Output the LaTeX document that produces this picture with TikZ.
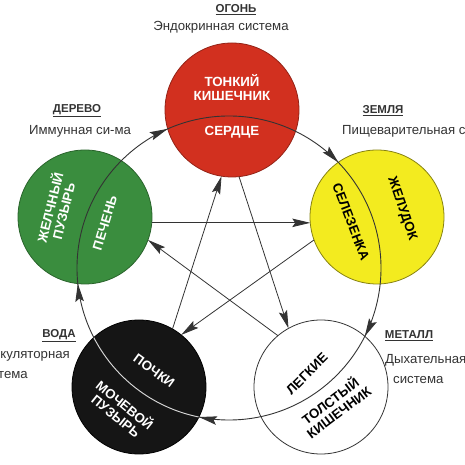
\documentclass[tikz,border=0pt]{standalone}
\usepackage{fontspec}
\setmainfont{Liberation Sans}
\usetikzlibrary{arrows.meta,decorations.markings}

\definecolor{firered}{HTML}{D2301F}
\definecolor{woodgreen}{HTML}{3A8D3E}
\definecolor{earthyellow}{HTML}{F3EB1F}
\definecolor{waterblack}{HTML}{151515}
\definecolor{linegray}{HTML}{333333}

\begin{document}
\begin{tikzpicture}[x=1pt,y=1pt,
  >={Stealth[length=18pt,width=8.5pt,inset=3pt]},
  elem/.style={circle,minimum size=134pt,inner sep=0pt,outer sep=0pt,line width=0.8pt},
  organ/.style={font=\fontsize{13.3}{14}\selectfont\bfseries,align=center,inner sep=0pt},
  title/.style={font=\fontsize{11.5}{12}\selectfont\bfseries,text=black!80,inner sep=0pt},
  sys/.style={font=\fontsize{13.2}{14}\selectfont,text=black!80,inner sep=0pt},
  link/.style={draw=linegray,line width=0.8pt,->}]

\useasboundingbox (0,0) rectangle (465,465);
\clip (0,0) rectangle (465,465);

% the five elements
\node[elem,fill=firered,draw=firered!70!black] (fire) at (232,355) {};
\node[elem,fill=woodgreen,draw=woodgreen!70!black] (wood) at (85,248) {};
\node[elem,fill=earthyellow,draw=earthyellow!55!black] (earth) at (377,248) {};
\node[elem,fill=waterblack,draw=black] (water) at (139,78) {};
\node[elem,fill=white,draw=linegray] (metal) at (321,78) {};

% generating cycle
\coordinate (hub) at (229,197);
\draw[linegray,line width=0.9pt,postaction={decorate},
  decoration={markings,
    mark=at position 0.0742 with {\arrow{>}},
    mark=at position 0.2817 with {\arrow{>}},
    mark=at position 0.4836 with {\arrow{>}},
    mark=at position 0.6839 with {\arrow{>}},
    mark=at position 0.8778 with {\arrow{>}}}]
  (hub) ++(0:152) arc[start angle=0,end angle=-360,radius=152];
\begin{scope}
\clip (water.center) circle[radius=66.6];
\draw[white!85!black,line width=0.9pt] (hub) circle[radius=152];
\end{scope}

% controlling cycle
\draw[link] (wood.355) -- (earth.185);
\draw[link] (earth.200) -- (water.51);
\draw[link] (water.60) -- (fire.261);
\draw[link] (fire.276) -- (metal.119);
\draw[link] (metal.130) -- (wood.340);

% organs
\node[organ,text=white] (sintestine) at (232,378) {ТОНКИЙ\\КИШЕЧНИК};
\node[organ,text=white] (heart) at (232,333) {СЕРДЦЕ};
\node[organ,text=white,rotate=76] (gallbladder) at (56,256) {ЖЕЛЧНЫЙ\\ПУЗЫРЬ};
\node[organ,text=white,rotate=73] (liver) at (105,242) {ПЕЧЕНЬ};
\node[organ,rotate=-69] (spleen) at (351,243) {СЕЛЕЗЕНКА};
\node[organ,rotate=-71] (stomach) at (402,256) {ЖЕЛУДОК};
\node[organ,text=white,rotate=-36] (kidneys) at (154,94) {ПОЧКИ};
\node[organ,text=white,rotate=-39] (bladder) at (121,55) {МОЧЕВОЙ\\ПУЗЫРЬ};
\node[organ,rotate=45] (lungs) at (307,91) {ЛЕГКИЕ};
\node[organ,rotate=37] (lintestine) at (334,59) {ТОЛСТЫЙ\\КИШЕЧНИК};

% element names and systems
\node[title] (firetitle) at (236,455) {\underline{ОГОНЬ}};
\node[sys] (firesys) at (221,438) {Эндокринная система};
\node[title] (woodtitle) at (77,354) {\underline{ДЕРЕВО}};
\node[sys] (woodsys) at (80,334) {Иммунная си-ма};
\node[title] (earthtitle) at (383,354) {\underline{ЗЕМЛЯ}};
\node[sys,anchor=west] (earthsys) at (342,334) {Пищеварительная система};
\node[title] (watertitle) at (59,129) {\underline{ВОДА}};
\node[sys,anchor=east] (watersys) at (70,110) {Циркуляторная};
\node[sys,anchor=east] (watersys2) at (28,90) {система};
\node[title] (metaltitle) at (409,129) {\underline{МЕТАЛЛ}};
\node[sys,anchor=west] (metalsys) at (385,105) {Дыхательная};
\node[sys,anchor=west] (metalsys2) at (393,85) {система};
\end{tikzpicture}
\end{document}
